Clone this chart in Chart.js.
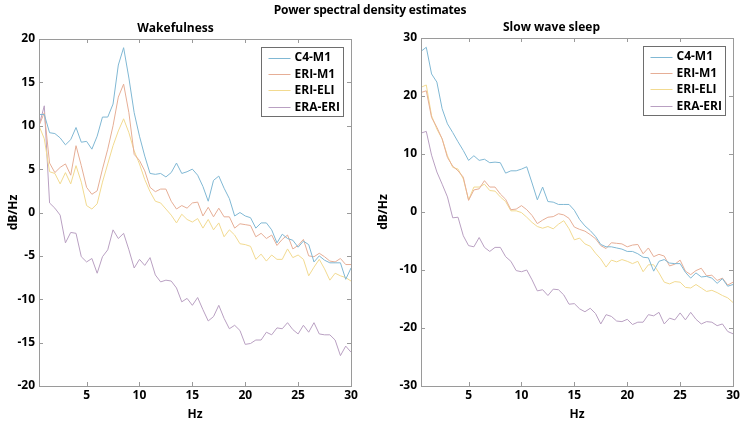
<!DOCTYPE html>
<html><head><meta charset="utf-8">
<script src="https://cdn.jsdelivr.net/npm/chart.js@4"></script>
<style>
html,body{margin:0;padding:0;background:#fff;}
#wrap{position:relative;width:740px;height:422px;overflow:hidden;background:#fff;}
#mainTitle{position:absolute;left:0;top:1px;width:740px;text-align:center;font:bold 12px "Open Sans";color:#000;line-height:18px;letter-spacing:-0.2px;}
.pane{position:absolute;top:0;width:370px;height:422px;}
</style></head><body>
<div id="wrap">
<div class="pane" style="left:0"><canvas id="c1" width="370" height="422"></canvas></div>
<div class="pane" style="left:370px"><canvas id="c2" width="370" height="422"></canvas></div>
<div id="mainTitle">Power spectral density estimates</div>
</div>
<script>
const FREQ_HZ = [0.5,1,1.5,2,2.5,3,3.5,4,4.5,5,5.5,6,6.5,7,7.5,8,8.5,9,9.5,10,10.5,11,11.5,12,12.5,13,13.5,14,14.5,15,15.5,16,16.5,17,17.5,18,18.5,19,19.5,20,20.5,21,21.5,22,22.5,23,23.5,24,24.5,25,25.5,26,26.5,27,27.5,28,28.5,29,29.5,30];
const SERIES_NAMES = ['C4-M1','ERI-M1','ERI-ELI','ERA-ERI'];
const X_TICKS = [5,10,15,20,25,30];
const WAKE_Y_TICKS = [-20,-15,-10,-5,0,5,10,15,20];
const SWS_Y_TICKS = [-30,-20,-10,0,10,20,30];

// Wakefulness (dB/Hz)
const WAKE_C4M1 = [11.3,11.3,9.2,9.1,8.6,7.8,8.4,9.8,8.1,8.2,7.3,8.8,11.0,11.0,12.5,17.0,19.0,15.5,11.5,8.8,6.5,4.5,4.4,4.5,4.1,4.6,5.7,4.5,4.7,5.0,4.3,3.0,1.3,3.7,4.2,2.8,1.6,-0.4,0.0,-0.4,-0.6,-1.8,-1.2,-1.2,-2.0,-3.5,-2.5,-3.0,-3.2,-4.0,-3.3,-3.7,-5.7,-5.0,-5.5,-5.8,-5.8,-5.8,-7.7,-6.4];
const WAKE_ERIM1 = [10.0,11.5,5.7,4.6,5.2,5.6,4.3,7.7,5.4,2.9,2.1,2.5,5.0,7.3,10.0,13.3,14.8,11.5,6.7,6.0,4.8,2.9,2.4,2.7,2.7,1.3,0.4,0.8,0.5,1.1,1.2,-0.4,0.6,-0.5,0.5,-0.5,-0.5,-1.8,-1.3,-1.4,-1.5,-2.8,-2.4,-3.0,-2.6,-3.8,-3.1,-2.6,-4.2,-3.8,-3.1,-5.0,-5.1,-4.7,-5.1,-5.6,-5.7,-5.3,-6.0,-6.0];
const WAKE_ERIELI = [10.0,8.5,4.7,4.5,3.3,4.6,3.3,5.4,3.5,0.8,0.4,1.0,3.5,5.6,7.7,9.4,10.8,9.2,7.1,5.6,3.8,2.4,1.3,1.1,0.4,-0.3,-1.2,-0.2,-0.8,-1.1,-0.7,-1.8,-0.8,-2.0,-1.2,-2.8,-2.0,-2.6,-3.6,-3.7,-3.9,-5.4,-4.8,-5.6,-4.9,-5.4,-5.4,-4.2,-5.2,-4.9,-5.4,-7.3,-6.3,-5.4,-6.5,-7.8,-7.0,-7.3,-7.5,-7.9];
const WAKE_ERAERI = [10.0,12.3,1.1,0.5,-0.3,-3.5,-2.3,-2.4,-5.1,-5.7,-5.3,-7.0,-5.1,-4.3,-2.0,-3.0,-2.4,-4.3,-6.4,-5.4,-6.1,-5.2,-7.2,-8.0,-7.8,-7.9,-8.7,-10.3,-9.9,-10.7,-9.8,-11.2,-12.5,-12.0,-10.7,-12.2,-13.4,-13.0,-13.6,-15.2,-15.1,-14.7,-14.7,-13.8,-14.1,-13.3,-13.4,-12.7,-13.5,-14.0,-13.0,-13.8,-12.7,-14.0,-14.1,-14.1,-14.7,-16.5,-15.4,-16.1];

// Slow wave sleep (dB/Hz)
const SWS_C4M1 = [27.7,28.4,23.8,22.4,17.8,15.2,13.7,12.1,10.6,8.9,9.7,8.9,9.1,8.5,8.6,8.5,6.7,7.1,7.1,7.4,7.8,5.0,2.1,4.3,1.8,1.7,1.3,1.3,1.3,0.3,-1.3,-2.4,-3.2,-4.2,-5.6,-6.0,-6.0,-6.2,-6.4,-6.8,-6.8,-7.2,-7.8,-7.9,-10.2,-8.5,-8.2,-8.8,-8.9,-8.9,-10.4,-11.4,-10.5,-11.2,-11.1,-11.4,-12.3,-11.5,-12.8,-12.5];
const SWS_ERIM1 = [20.6,20.9,16.3,14.6,12.6,9.4,7.9,7.1,6.0,2.0,3.8,4.0,5.4,4.3,4.3,3.1,2.2,0.4,0.5,1.1,0.4,-0.6,-2.0,-1.4,-0.9,-0.8,-0.3,-0.5,-1.1,-2.6,-3.0,-3.3,-3.9,-4.6,-5.8,-6.3,-5.3,-5.4,-5.5,-6.0,-5.7,-5.6,-7.2,-6.2,-7.7,-7.3,-7.6,-9.3,-9.0,-8.3,-10.2,-10.8,-10.1,-9.7,-11.0,-10.9,-11.8,-11.4,-12.6,-12.1];
const SWS_ERIELI = [21.5,21.9,16.6,14.3,12.6,9.7,7.7,7.4,5.7,2.1,4.3,4.3,4.8,3.7,3.6,2.6,1.8,0.2,0.2,-0.1,-0.9,-1.8,-2.5,-2.8,-2.5,-2.9,-2.1,-1.5,-2.9,-4.8,-4.5,-5.5,-5.9,-7.1,-8.1,-9.5,-8.3,-8.6,-8.2,-8.5,-8.9,-8.5,-10.3,-9.1,-9.1,-10.5,-12.1,-12.4,-12.0,-12.1,-13.0,-13.1,-12.5,-13.1,-13.7,-13.5,-13.9,-14.4,-14.8,-15.6];
const SWS_ERAERI = [13.6,13.9,9.8,6.9,4.8,2.6,-1.0,-0.9,-4.1,-5.8,-6.0,-4.4,-6.1,-6.8,-6.1,-6.1,-7.7,-8.5,-10.1,-10.3,-10.0,-11.7,-13.6,-13.4,-14.4,-13.3,-13.4,-14.3,-15.9,-15.8,-16.7,-17.2,-16.6,-17.5,-19.3,-17.7,-18.0,-18.8,-18.9,-18.5,-19.4,-19.0,-19.0,-17.7,-17.9,-17.3,-19.3,-18.3,-18.6,-17.4,-18.6,-17.3,-18.5,-19.3,-18.9,-19.0,-19.6,-19.3,-20.6,-21.0];

const COLORS = ['#80b8d4','#e6ae96','#f2da90','#b9a0c2'];
const FONT = 'Open Sans';

const framePlugin = {
  id: 'frame',
  afterDatasetsDraw(chart) {
    const {ctx, chartArea: a, scales} = chart;
    ctx.save();
    ctx.strokeStyle = '#9a9a9a';
    ctx.lineWidth = 1;
    ctx.beginPath();
    const tl = 4;
    scales.x.ticks.forEach(t => {
      const px = Math.round(scales.x.getPixelForValue(t.value)) + 0.5;
      ctx.moveTo(px, a.bottom); ctx.lineTo(px, a.bottom - tl);
      ctx.moveTo(px, a.top); ctx.lineTo(px, a.top + tl);
    });
    scales.y.ticks.forEach(t => {
      const py = Math.round(scales.y.getPixelForValue(t.value)) + 0.5;
      ctx.moveTo(a.left, py); ctx.lineTo(a.left + tl, py);
      ctx.moveTo(a.right, py); ctx.lineTo(a.right - tl, py);
    });
    ctx.stroke();
    ctx.strokeRect(Math.round(a.left) + 0.5, Math.round(a.top) + 0.5, Math.round(a.right - a.left), Math.round(a.bottom - a.top));
    // legend
    const bw = 82, bh = 69;
    const bx = Math.round(a.right - 8 - bw) + 0.5, by = Math.round(a.top + 8) + 0.5;
    ctx.fillStyle = '#fff';
    ctx.fillRect(bx, by, bw, bh);
    ctx.strokeStyle = '#6e6e6e';
    ctx.strokeRect(bx, by, bw, bh);
    ctx.font = 'bold 12px "' + FONT + '"';
    ctx.textBaseline = 'middle';
    ctx.textAlign = 'left';
    chart.data.datasets.forEach((ds, i) => {
      const cy = by + 10 + i * 16.4;
      ctx.strokeStyle = ds.borderColor;
      ctx.lineWidth = 1;
      ctx.beginPath();
      ctx.moveTo(bx + 7, Math.round(cy) + 0.5);
      ctx.lineTo(bx + 29, Math.round(cy) + 0.5);
      ctx.stroke();
      ctx.fillStyle = '#000';
      ctx.fillText(ds.label, bx + 33, cy + 0.5);
    });
    ctx.restore();
  }
};

function makeChart(id, title, series, yMin, yMax, yTicks, padRight, titlePad) {
  const datasets = series.map((arr, i) => ({
    label: SERIES_NAMES[i],
    data: FREQ_HZ.map((f, k) => ({x: f, y: arr[k]})),
    borderColor: COLORS[i],
    borderWidth: 1,
    pointRadius: 0,
    tension: 0,
    fill: false
  }));
  const tickFont = {family: FONT, size: 12, weight: 'bold'};
  return new Chart(document.getElementById(id), {
    type: 'line',
    data: {datasets},
    plugins: [framePlugin],
    options: {
      responsive: false,
      animation: false,
      events: [],
      layout: {padding: {left: 0, right: padRight, top: 0, bottom: 0}},
      plugins: {
        legend: {display: false},
        tooltip: {enabled: false},
        title: {display: true, text: title, color: '#000', font: {family: FONT, size: 12, weight: 'bold'}, padding: titlePad}
      },
      scales: {
        x: {
          type: 'linear', min: 0.5, max: 30,
          afterBuildTicks: s => { s.ticks = X_TICKS.map(v => ({value: v})); },
          afterFit: s => { s.height = 36; s.paddingLeft = 0; s.paddingRight = 0; },
          grid: {display: false, drawTicks: false},
          border: {display: false},
          ticks: {color: '#000', font: tickFont, padding: 2, maxRotation: 0, autoSkip: false},
          title: {display: true, text: 'Hz', color: '#000', font: tickFont, padding: {top: 0, bottom: 0}}
        },
        y: {
          type: 'linear', min: yMin, max: yMax,
          afterBuildTicks: s => { s.ticks = yTicks.map(v => ({value: v})); },
          afterFit: s => { s.width = id === 'c1' ? 39 : 51; s.paddingTop = 0; s.paddingBottom = 0; },
          grid: {display: false, drawTicks: false},
          border: {display: false},
          ticks: {color: '#000', font: tickFont, padding: 4, autoSkip: false},
          title: {display: true, text: 'dB/Hz', color: '#000', font: tickFont, padding: {top: 6, bottom: 0}}
        }
      }
    }
  });
}

makeChart('c1', 'Wakefulness', [WAKE_C4M1, WAKE_ERIM1, WAKE_ERIELI, WAKE_ERAERI], -20, 20, WAKE_Y_TICKS, 19, {top: 21, bottom: 3.6});
makeChart('c2', 'Slow wave sleep', [SWS_C4M1, SWS_ERIM1, SWS_ERIELI, SWS_ERAERI], -30, 30, SWS_Y_TICKS, 7, {top: 20, bottom: 3.6});
</script>
</body></html>
